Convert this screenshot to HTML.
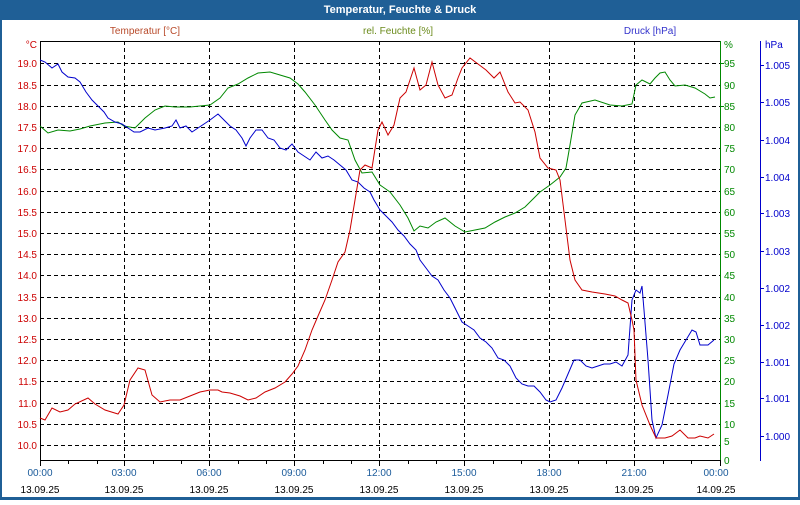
<!DOCTYPE html>
<html><head><meta charset="utf-8"><style>
body{margin:0;width:800px;height:500px;overflow:hidden;background:#fff;font-family:"Liberation Sans",sans-serif}
</style></head><body>
<svg width="800" height="500" xmlns="http://www.w3.org/2000/svg" font-family="Liberation Sans, sans-serif" font-size="10">
<rect x="0" y="0" width="800" height="500" fill="#1f5f96"/>
<rect x="2" y="20" width="796" height="477" fill="#fff"/>
<text x="400" y="13" fill="#fff" font-weight="bold" font-size="11" text-anchor="middle">Temperatur, Feuchte &amp; Druck</text>
<text x="145" y="34" fill="#b84a2a" text-anchor="middle">Temperatur [°C]</text>
<text x="398" y="34" fill="#6a8a1a" text-anchor="middle">rel. Feuchte [%]</text>
<text x="650" y="34" fill="#3333cc" text-anchor="middle">Druck [hPa]</text>
<g stroke="#000" stroke-dasharray="4,3" stroke-width="1">
<line x1="40" x2="720" y1="63.5" y2="63.5"/><line x1="40" x2="720" y1="85.5" y2="85.5"/><line x1="40" x2="720" y1="106.5" y2="106.5"/><line x1="40" x2="720" y1="127.5" y2="127.5"/><line x1="40" x2="720" y1="148.5" y2="148.5"/><line x1="40" x2="720" y1="169.5" y2="169.5"/><line x1="40" x2="720" y1="191.5" y2="191.5"/><line x1="40" x2="720" y1="212.5" y2="212.5"/><line x1="40" x2="720" y1="233.5" y2="233.5"/><line x1="40" x2="720" y1="254.5" y2="254.5"/><line x1="40" x2="720" y1="275.5" y2="275.5"/><line x1="40" x2="720" y1="297.5" y2="297.5"/><line x1="40" x2="720" y1="318.5" y2="318.5"/><line x1="40" x2="720" y1="339.5" y2="339.5"/><line x1="40" x2="720" y1="360.5" y2="360.5"/><line x1="40" x2="720" y1="381.5" y2="381.5"/><line x1="40" x2="720" y1="403.5" y2="403.5"/><line x1="40" x2="720" y1="424.5" y2="424.5"/><line x1="40" x2="720" y1="445.5" y2="445.5"/>
<line x1="124.5" x2="124.5" y1="41" y2="460"/><line x1="209.5" x2="209.5" y1="41" y2="460"/><line x1="294.5" x2="294.5" y1="41" y2="460"/><line x1="379.5" x2="379.5" y1="41" y2="460"/><line x1="464.5" x2="464.5" y1="41" y2="460"/><line x1="549.5" x2="549.5" y1="41" y2="460"/><line x1="634.5" x2="634.5" y1="41" y2="460"/>
</g>
<line x1="40" x2="720" y1="41.5" y2="41.5" stroke="#000"/>
<line x1="40.5" x2="40.5" y1="41" y2="461" stroke="#000"/>
<line x1="40" x2="720" y1="460.5" y2="460.5" stroke="#000"/>
<line x1="720.5" x2="720.5" y1="41" y2="461" stroke="#008800"/>
<line x1="760.5" x2="760.5" y1="41" y2="461" stroke="#0000cc"/>
<g stroke="#000"><line x1="40.5" x2="40.5" y1="460" y2="466"/><line x1="68.5" x2="68.5" y1="460" y2="464"/><line x1="97.5" x2="97.5" y1="460" y2="464"/><line x1="124.5" x2="124.5" y1="460" y2="466"/><line x1="153.5" x2="153.5" y1="460" y2="464"/><line x1="181.5" x2="181.5" y1="460" y2="464"/><line x1="209.5" x2="209.5" y1="460" y2="466"/><line x1="238.5" x2="238.5" y1="460" y2="464"/><line x1="266.5" x2="266.5" y1="460" y2="464"/><line x1="294.5" x2="294.5" y1="460" y2="466"/><line x1="323.5" x2="323.5" y1="460" y2="464"/><line x1="351.5" x2="351.5" y1="460" y2="464"/><line x1="379.5" x2="379.5" y1="460" y2="466"/><line x1="408.5" x2="408.5" y1="460" y2="464"/><line x1="436.5" x2="436.5" y1="460" y2="464"/><line x1="464.5" x2="464.5" y1="460" y2="466"/><line x1="493.5" x2="493.5" y1="460" y2="464"/><line x1="521.5" x2="521.5" y1="460" y2="464"/><line x1="549.5" x2="549.5" y1="460" y2="466"/><line x1="578.5" x2="578.5" y1="460" y2="464"/><line x1="606.5" x2="606.5" y1="460" y2="464"/><line x1="634.5" x2="634.5" y1="460" y2="466"/><line x1="663.5" x2="663.5" y1="460" y2="464"/><line x1="691.5" x2="691.5" y1="460" y2="464"/><line x1="720.5" x2="720.5" y1="460" y2="466"/></g>
<g fill="#cc0000" text-anchor="end">
<text x="37" y="48">°C</text><text x="37" y="67">19.0</text><text x="37" y="89">18.5</text><text x="37" y="110">18.0</text><text x="37" y="131">17.5</text><text x="37" y="152">17.0</text><text x="37" y="173">16.5</text><text x="37" y="195">16.0</text><text x="37" y="216">15.5</text><text x="37" y="237">15.0</text><text x="37" y="258">14.5</text><text x="37" y="279">14.0</text><text x="37" y="301">13.5</text><text x="37" y="322">13.0</text><text x="37" y="343">12.5</text><text x="37" y="364">12.0</text><text x="37" y="385">11.5</text><text x="37" y="407">11.0</text><text x="37" y="428">10.5</text><text x="37" y="449">10.0</text>
</g>
<g fill="#008800"><text x="724" y="48">%</text><text x="724" y="67">95</text><text x="724" y="89">90</text><text x="724" y="110">85</text><text x="724" y="131">80</text><text x="724" y="152">75</text><text x="724" y="173">70</text><text x="724" y="195">65</text><text x="724" y="216">60</text><text x="724" y="237">55</text><text x="724" y="258">50</text><text x="724" y="279">45</text><text x="724" y="301">40</text><text x="724" y="322">35</text><text x="724" y="343">30</text><text x="724" y="364">25</text><text x="724" y="385">20</text><text x="724" y="407">15</text><text x="724" y="428">10</text><text x="724" y="445">5</text><text x="724" y="464">0</text></g>
<g stroke="#008800"><line x1="720" x2="724" y1="63.5" y2="63.5"/><line x1="720" x2="724" y1="106.5" y2="106.5"/></g>
<g fill="#0000cc"><text x="765" y="48">hPa</text><text x="765" y="69">1.005</text><text x="765" y="106">1.005</text><text x="765" y="144">1.004</text><text x="765" y="181">1.004</text><text x="765" y="217">1.003</text><text x="765" y="255">1.003</text><text x="765" y="292">1.002</text><text x="765" y="329">1.002</text><text x="765" y="366">1.001</text><text x="765" y="402">1.001</text><text x="765" y="440">1.000</text></g>
<g stroke="#0000cc"><line x1="760" x2="764" y1="65.5" y2="65.5"/><line x1="760" x2="764" y1="102.5" y2="102.5"/><line x1="760" x2="764" y1="140.5" y2="140.5"/><line x1="760" x2="764" y1="177.5" y2="177.5"/><line x1="760" x2="764" y1="213.5" y2="213.5"/><line x1="760" x2="764" y1="251.5" y2="251.5"/><line x1="760" x2="764" y1="288.5" y2="288.5"/><line x1="760" x2="764" y1="325.5" y2="325.5"/><line x1="760" x2="764" y1="362.5" y2="362.5"/><line x1="760" x2="764" y1="398.5" y2="398.5"/><line x1="760" x2="764" y1="436.5" y2="436.5"/></g>
<g fill="#1a5a9a" text-anchor="middle"><text x="40" y="476">00:00</text><text x="124" y="476">03:00</text><text x="209" y="476">06:00</text><text x="294" y="476">09:00</text><text x="379" y="476">12:00</text><text x="464" y="476">15:00</text><text x="549" y="476">18:00</text><text x="634" y="476">21:00</text><text x="716" y="476">00:00</text></g>
<g fill="#000" text-anchor="middle"><text x="40" y="493">13.09.25</text><text x="124" y="493">13.09.25</text><text x="209" y="493">13.09.25</text><text x="294" y="493">13.09.25</text><text x="379" y="493">13.09.25</text><text x="464" y="493">13.09.25</text><text x="549" y="493">13.09.25</text><text x="634" y="493">13.09.25</text><text x="716" y="493">14.09.25</text></g>
<polyline fill="none" stroke="#008800" points="40,126 48,133 58,130 70,131 80,129 90,126 105,123 118,122 124,126 135,128 145,118 155,110 165,106 175,107 190,107 200,106 210,105 220,98 228,88 238,84 248,78 258,73 270,72 280,75 290,78 298,84 305,92 315,105 325,120 332,130 340,138 348,140 355,160 362,173 372,172 380,185 390,192 400,205 408,218 414,231 420,226 428,228 436,222 445,218 455,226 465,232 475,230 485,228 495,222 505,217 515,213 525,207 532,200 540,192 550,185 560,177 566,168 570,145 575,115 582,103 595,100 610,105 622,106 632,104 636,85 642,80 650,84 655,78 660,73 665,72 670,80 675,86 685,85 695,88 705,94 710,98 715,97"/>
<polyline fill="none" stroke="#0000cc" points="40,60 45,62 52,68 58,64 62,72 68,77 75,78 80,82 86,92 92,100 98,106 104,112 108,118 115,122 122,124 128,128 134,132 140,132 148,128 155,130 165,128 172,126 176,120 180,128 186,126 192,132 198,128 204,124 210,120 218,114 224,120 230,126 236,130 242,138 246,146 250,138 256,130 262,130 268,138 274,140 280,148 286,150 292,144 298,152 304,156 310,160 316,152 322,158 328,156 334,160 340,165 346,170 352,180 358,182 364,188 370,192 374,200 380,210 386,216 392,222 398,230 404,236 410,244 416,250 420,260 426,268 432,276 438,280 444,290 450,298 456,310 462,322 468,326 474,330 480,338 486,342 492,348 498,358 504,360 510,366 516,378 522,384 528,386 534,386 540,392 546,400 550,402 556,400 562,388 568,374 574,360 580,360 586,366 592,368 598,366 604,364 610,364 616,362 622,366 628,355 632,300 636,290 640,293 642,286 644,310 648,360 652,420 656,438 662,425 668,395 674,364 680,350 686,340 692,330 696,332 700,345 708,345 714,340"/>
<polyline fill="none" stroke="#cc0000" points="40,418 45,420 52,408 60,412 68,410 75,404 88,398 95,404 105,410 118,414 124,405 130,380 138,368 145,370 152,395 160,402 170,400 180,400 190,396 200,392 210,390 218,390 222,392 230,393 240,396 248,400 256,398 265,392 275,388 285,382 292,374 298,366 305,350 312,330 318,316 325,300 332,280 338,262 345,252 350,230 355,200 360,170 365,165 372,168 378,130 382,122 388,135 394,125 400,98 406,92 414,68 420,90 426,85 432,62 438,85 445,98 452,95 458,78 462,68 470,58 478,64 486,70 494,78 500,72 508,92 515,103 520,102 528,110 535,132 540,158 548,168 556,170 560,180 565,220 570,260 575,280 582,290 592,292 605,294 615,296 622,300 628,303 632,320 634,330 636,380 642,405 650,425 656,438 665,438 672,436 680,430 688,438 695,438 700,436 708,438 714,434"/>
</svg>
</body></html>
